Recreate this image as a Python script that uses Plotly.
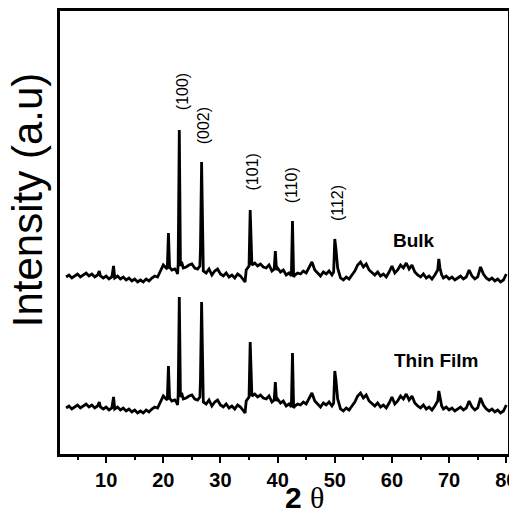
import plotly.graph_objects as go

# 2-theta positions (degrees)
two_theta = [
    3.0, 3.5, 4.0, 4.5, 5.0, 5.5, 6.0, 6.5, 7.0, 7.5, 8.0, 8.5, 8.8, 9.0, 9.5, 10.0,
    10.5, 11.0, 11.3, 11.5, 12.0, 12.5, 13.0, 13.5, 14.0, 14.5, 15.0, 15.5, 16.0,
    16.5, 17.0, 17.5, 18.0, 18.5, 19.0, 19.5, 20.0, 20.5, 20.7, 20.9, 21.1, 21.5,
    22.0, 22.3, 22.5, 22.6, 22.8, 23.0, 23.2, 23.5, 24.0, 24.5, 25.0, 25.5, 26.0,
    26.4, 26.5, 26.7, 26.9, 27.0, 27.5, 28.0, 28.5, 29.0, 29.5, 30.0, 30.5, 31.0,
    31.5, 32.0, 32.5, 33.0, 33.5, 34.0, 34.3, 34.5, 35.0, 35.2, 35.4, 35.5, 36.0,
    36.5, 37.0, 37.5, 38.0, 38.5, 39.0, 39.4, 39.6, 39.8, 40.0, 40.5, 41.0, 41.5,
    42.0, 42.4, 42.6, 42.8, 43.0, 43.5, 44.0, 44.5, 45.0, 45.5, 46.0, 46.5, 47.0,
    47.5, 48.0, 48.5, 49.0, 49.5, 49.8, 50.0, 50.2, 50.5, 51.0, 51.5, 52.0, 52.5,
    53.0, 53.5, 54.0, 54.5, 55.0, 55.5, 56.0, 56.5, 57.0, 57.5, 58.0, 58.5, 59.0,
    59.5, 60.0, 60.5, 61.0, 61.5, 62.0, 62.5, 63.0, 63.5, 64.0, 64.5, 65.0, 65.5,
    66.0, 66.5, 67.0, 67.5, 68.0, 68.2, 68.4, 68.7, 69.0, 69.5, 70.0, 70.5, 71.0,
    71.5, 72.0, 72.5, 73.0, 73.5, 74.0, 74.5, 75.0, 75.5, 76.0, 76.5, 77.0, 77.5,
    78.0, 78.5, 79.0, 79.5, 80.0,
]

bulk = [
    177, 179, 176, 178, 180, 177, 179, 181, 178, 180, 177, 179, 183, 178, 176, 178,
    175, 177, 188, 176, 178, 175, 177, 174, 176, 173, 175, 172, 174,
    172, 175, 173, 176, 178, 177, 183, 189, 186, 185, 221, 187, 184,
    185, 183, 180, 190, 324, 188, 192, 186, 187, 189, 190, 186, 185,
    188, 205, 292, 195, 183, 181, 185, 179, 183, 185, 180, 178, 181,
    177, 179, 176, 180, 178, 174, 172, 184, 188, 244, 190, 189, 191,
    188, 190, 187, 186, 189, 183, 185, 203, 184, 186, 182, 184, 179,
    181, 178, 233, 177, 179, 181, 180, 183, 181, 186, 192, 184, 181,
    178, 182, 180, 183, 179, 182, 215, 205, 186, 176, 174, 177, 175,
    179, 183, 189, 192, 187, 190, 184, 181, 179, 182, 178, 180, 177,
    182, 188, 181, 184, 189, 186, 191, 185, 189, 182, 179, 177, 180,
    176, 178, 175, 179, 184, 195, 186, 179, 176, 178, 175, 177, 174,
    176, 178, 175, 177, 184, 178, 175, 177, 187, 180, 176, 174, 176,
    173, 175, 172, 174, 180,
]

thin_film = [
    46, 48, 45, 47, 49, 46, 48, 50, 47, 49, 46, 48, 52, 47, 45, 47,
    44, 46, 57, 45, 47, 44, 46, 43, 45, 42, 44, 41, 43,
    41, 44, 42, 45, 47, 46, 52, 58, 55, 54, 88, 56, 53,
    54, 52, 49, 59, 157, 57, 61, 55, 56, 58, 59, 55, 54,
    57, 74, 152, 64, 52, 50, 54, 48, 52, 54, 49, 47, 50,
    46, 48, 45, 49, 47, 43, 41, 53, 57, 112, 59, 58, 60,
    57, 59, 56, 55, 58, 52, 54, 72, 53, 55, 51, 53, 48,
    50, 47, 101, 46, 48, 50, 49, 52, 50, 55, 61, 53, 50,
    47, 51, 49, 52, 48, 51, 83, 74, 55, 45, 43, 46, 44,
    48, 52, 58, 61, 56, 59, 53, 50, 48, 51, 47, 49, 46,
    51, 57, 50, 53, 58, 55, 60, 54, 58, 51, 48, 46, 49,
    45, 47, 44, 48, 53, 63, 55, 48, 45, 47, 44, 46, 43,
    45, 47, 44, 46, 53, 47, 44, 46, 56, 49, 45, 43, 45,
    42, 44, 41, 43, 49,
]

# Miller index labels: (label, 2-theta, intensity)
hkl_labels = ["(100)", "(002)", "(101)", "(110)", "(112)"]
hkl_x = [23.3, 27.0, 35.6, 42.4, 50.4]
hkl_y = [362, 328, 282, 269, 251]

series_names = ["Bulk", "Thin Film"]
series_label_x = [63.9, 67.7]
series_label_y = [214, 94]

x_ticks = [10, 20, 30, 40, 50, 60, 70, 80]

NARROW = "Liberation Sans Narrow, Arial Narrow, Liberation Sans"

fig = go.Figure()
for name, vals in zip(series_names, [bulk, thin_film]):
    fig.add_trace(go.Scatter(
        x=two_theta, y=vals, mode="lines", name=name,
        line=dict(color="black", width=2.8), showlegend=False,
    ))

for lab, xx, yy in zip(hkl_labels, hkl_x, hkl_y):
    fig.add_annotation(x=xx, y=yy, text=lab, showarrow=False, textangle=-90,
                       xanchor="center", yanchor="middle",
                       font=dict(family="Liberation Sans, Arial", size=16, color="black"))

for lab, xx, yy in zip(series_names, series_label_x, series_label_y):
    fig.add_annotation(x=xx, y=yy, text="<b>%s</b>" % lab, showarrow=False,
                       xanchor="center", yanchor="middle",
                       font=dict(family=NARROW, size=19, color="black"))

# axis titles
fig.add_annotation(xref="paper", yref="paper", x=0.546, y=-0.098,
                   xanchor="center", yanchor="middle",
                   text="<b>2</b> <span style='font-family:Liberation Serif'>θ</span>",
                   showarrow=False,
                   font=dict(family=NARROW, size=30, color="black"))
fig.add_annotation(xref="paper", yref="paper", x=-0.0736, y=0.573,
                   xanchor="center", yanchor="middle",
                   text="Intensity (a.u)", showarrow=False, textangle=-90,
                   font=dict(family="Liberation Sans, Arial", size=42, color="black"))

fig.update_layout(
    width=509, height=515,
    margin=dict(l=59.5, r=1, t=11, b=61, autoexpand=False),
    paper_bgcolor="white", plot_bgcolor="white",
    xaxis=dict(
        range=[1.93, 80.3], tickvals=x_ticks, ticks="outside", ticklen=6, tickwidth=2,
        tickcolor="black", showgrid=False, zeroline=False, automargin=False,
        ticklabeloverflow="allow",
        showline=True, mirror=True, linecolor="black", linewidth=2.6,
        tickfont=dict(family=NARROW, size=20, color="black", weight="bold"),
        minor=dict(ticks="outside", ticklen=3, tickwidth=2, tickcolor="black",
                   tick0=5, dtick=10),
    ),
    yaxis=dict(
        range=[0, 443], showticklabels=False, ticks="", showgrid=False, zeroline=False,
        automargin=False,
        showline=True, mirror=True, linecolor="black", linewidth=2.6,
    ),
)

fig.write_html("out.html", config={"displayModeBar": False},
               post_script="document.body.style.margin='0';document.body.style.overflow='hidden';")
